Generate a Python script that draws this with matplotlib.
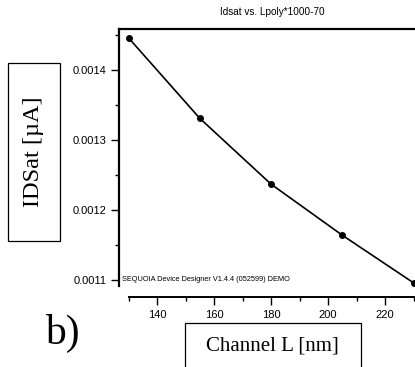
import numpy as np
import matplotlib.pyplot as plt
from matplotlib.patches import Rectangle
from matplotlib.ticker import MultipleLocator

# channel length [nm] vs saturation current
channel_l = [130, 155, 180, 205, 230]
idsat = [0.001446, 0.001331, 0.001237, 0.001164, 0.001096]

W, H = 415, 367
fig = plt.figure(figsize=(W / 100, H / 100), dpi=100)

# axes box in pixels (left, top, right, bottom)
L, T, R, B = 119, 29, 413.5, 286
ax = fig.add_axes([L / W, 1 - B / H, (R - L) / W, (B - T) / H])

ax.plot(channel_l, idsat, color="black", lw=1.2, marker="o", ms=4)

px_per_unit = (R - 128.5) / 100.0
ax.set_xlim(130 - (128.5 - L) / px_per_unit, 230)
ax.set_ylim(0.0011 - 6 / 70 * 1e-4, 0.0014 + 41 / 70 * 1e-4)

ax.spines["right"].set_visible(False)
ax.spines["top"].set_linewidth(1.6)
ax.spines["left"].set_linewidth(1.6)
ax.spines["bottom"].set_linewidth(1.4)
ax.spines["bottom"].set_position(("outward", 8))
ax.spines["bottom"].set_bounds(130, 230)

ax.set_xticks([140, 160, 180, 200, 220])
ax.xaxis.set_minor_locator(MultipleLocator(10))
ax.set_yticks([0.0011, 0.0012, 0.0013, 0.0014])
ax.set_yticklabels(["0.0011", "0.0012", "0.0013", "0.0014"])
ax.yaxis.set_minor_locator(MultipleLocator(0.00005))
ax.tick_params(which="major", direction="out", length=6, width=1,
               labelsize=8, pad=3)
ax.tick_params(which="minor", direction="out", length=3, width=1)
for lab in ax.get_xticklabels() + ax.get_yticklabels():
    lab.set_family("Liberation Sans")

ax.set_title("Idsat vs. Lpoly*1000-70", fontsize=7.2, family="Liberation Sans",
             pad=10, x=0.52)
ax.text(0.01, 0.012, "SEQUOIA Device Designer V1.4.4 (052599) DEMO",
        transform=ax.transAxes, fontsize=5.3, family="Liberation Sans",
        ha="left", va="bottom")

# boxed axis labels
fig.add_artist(Rectangle((8 / W, 1 - 241 / H), 52 / W, 178 / H,
                         transform=fig.transFigure, fill=False, lw=0.9,
                         edgecolor="black"))
fig.text(34 / W, 1 - 152 / H, "IDSat [\u00b5A]", rotation=90, ha="center",
         va="center", fontsize=17.5, family="Liberation Serif")

fig.add_artist(Rectangle((185 / W, -0.01), 176 / W, 1 - 323 / H + 0.01,
                         transform=fig.transFigure, fill=False, lw=0.9,
                         edgecolor="black"))
fig.text(272 / W, 1 - 346 / H, "Channel L [nm]", ha="center", va="center",
         fontsize=15, family="Liberation Serif")

fig.text(62 / W, 1 - 333 / H, "b)", ha="center", va="center", fontsize=30,
         family="Liberation Serif")

fig.savefig("out.png", dpi=100)
